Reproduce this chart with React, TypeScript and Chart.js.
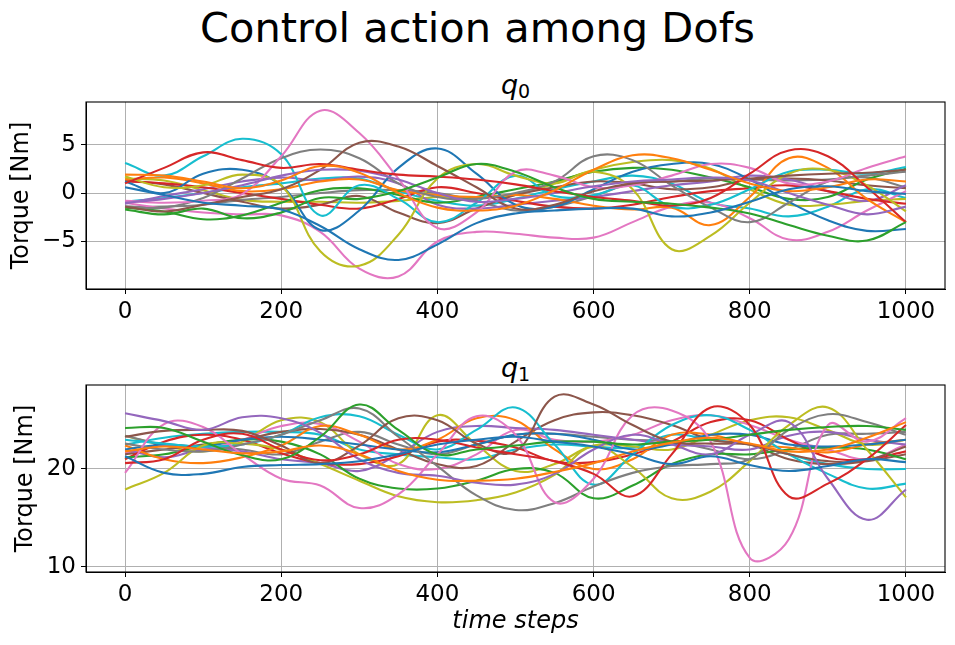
import React, { useEffect, useRef } from "react";
import { Chart, registerables } from "chart.js";

Chart.register(...registerables);

const TAB10 = ["#1f77b4", "#ff7f0e", "#2ca02c", "#d62728", "#9467bd", "#8c564b", "#e377c2", "#7f7f7f", "#bcbd22", "#17becf"];

const timeSteps = [0, 50, 100, 150, 200, 250, 300, 350, 400, 450, 500, 550, 600, 650, 700, 750, 800, 850, 900, 950, 1000];
const xTicks = [0, 200, 400, 600, 800, 1000];
const q0Ticks = [-5, 0, 5];
const q1Ticks = [10, 20];

// q0 torques
const q0Blue1 = [0.6, -0.2, -1.0, -1.3, -1.7, -3.4, -5.8, -6.9, -5.3, -3.1, -2.1, -1.8, -1.6, -1.6, -2.4, -2.0, -0.9, 0.4, 0.7, 0.2, -0.1];
const q0Orange1 = [1.9, 1.8, 1.2, 0.5, 1.3, 2.8, 2.1, 0.0, -1.5, -1.8, -1.3, 0.3, 2.4, 3.9, 3.6, 2.4, 1.0, 0.2, 0.6, 1.4, 1.2];
const q0Green1 = [-1.7, -2.2, -1.6, -2.6, -2.0, -0.5, -0.6, 0.2, 1.6, 3.0, 2.2, 0.6, -0.6, -0.9, -1.1, -1.5, -2.1, -3.3, -4.4, -4.9, -3.0];
const q0Red1 = [1.0, 2.6, 4.2, 3.4, 2.6, 3.0, 2.4, 1.9, 1.7, 1.4, 0.9, 0.2, -0.4, -0.8, -1.3, -0.5, 2.0, 4.4, 3.8, 0.6, -3.0];
const q0Purple1 = [-1.0, -0.6, 0.0, 0.8, 1.8, 2.4, 2.3, 1.4, 0.0, -0.9, -0.6, 0.0, 0.7, 1.2, 1.4, 1.6, 1.3, 0.0, -1.2, -2.2, -1.4];
const q0Brown1 = [-1.4, -1.9, -1.2, -0.4, 0.4, 2.4, 5.2, 4.8, 2.8, 0.6, -1.6, -1.2, 0.2, 1.0, 1.2, 1.3, 1.5, 1.8, 2.0, 2.1, 2.4];
const q0Pink1 = [-0.8, -1.0, -0.8, -0.1, 3.8, 8.5, 6.2, 1.5, -3.6, -2.0, 2.2, 1.8, 0.6, 0.8, 1.8, 3.0, 2.6, 1.0, 1.2, 2.6, 3.8];
const q0Gray1 = [-1.4, -1.5, -0.5, 1.5, 3.6, 4.5, 3.6, 1.0, -0.4, -0.6, 0.0, 1.2, 3.8, 3.4, 0.8, -1.5, -3.0, -1.0, 1.2, 1.8, 2.2];
const q0Olive1 = [1.7, 0.6, 0.8, 1.9, 0.8, -6.0, -7.5, -4.3, 1.5, 3.0, 1.8, 1.0, 2.2, 0.4, -5.8, -4.4, -1.0, 2.0, 2.4, 0.8, -1.9];
const q0Cyan1 = [3.1, 1.8, 3.8, 5.6, 4.0, -2.3, 0.8, -0.6, -3.0, -1.0, 1.8, -0.3, -0.2, 0.8, -1.4, -1.2, 0.4, 2.2, 2.4, 2.0, 2.7];
const q0Blue2 = [1.2, 0.0, 2.0, 2.4, 0.8, -3.8, -1.8, 2.6, 4.6, 2.0, -1.2, -1.4, 0.4, 2.2, 3.0, 3.0, 1.4, -0.9, -2.8, -3.9, -3.7];
const q0Orange2 = [1.4, 1.6, 1.0, 0.2, 0.4, 1.2, 1.4, 0.3, -0.2, -0.4, -0.2, -0.6, -1.3, -1.7, -1.5, -3.3, -0.4, 3.6, 2.6, -0.6, -3.0];
const q0Green2 = [-1.5, -1.9, -2.7, -2.3, -1.0, 0.3, 0.5, -0.2, -1.0, -0.4, 0.4, 1.2, 2.2, 2.6, 2.4, 1.6, 0.6, -0.6, -0.4, 1.4, 2.5];
const q0Red2 = [1.2, 1.0, 0.6, 0.0, -0.6, -1.2, -1.6, -0.6, 0.6, 0.0, -0.8, -1.4, -1.6, -1.2, -0.4, 0.2, 0.5, 0.8, 0.2, -0.6, -1.1];
const q0Purple2 = [-1.1, -0.3, 0.4, 1.2, 1.6, 1.3, 1.7, 1.0, -1.2, -1.6, -1.2, -0.8, -0.4, 0.2, 0.8, 1.2, 1.8, 1.4, 0.2, -0.8, 0.8];
const q0Brown2 = [1.3, 0.9, 0.0, -0.9, -1.6, -1.2, -0.3, -2.0, -3.1, -1.6, -0.2, 0.6, 1.2, 1.0, 0.4, 0.6, 1.4, 1.5, 1.3, 0.8, 0.5];
const q0Pink2 = [-1.0, -1.6, -2.0, -2.2, -2.3, -4.0, -7.8, -8.6, -5.0, -4.0, -4.2, -4.6, -4.6, -3.0, -1.4, -1.0, -2.6, -4.8, -4.0, -1.8, 0.2];
const q0Gray2 = [-1.4, -1.4, -1.2, -0.7, -0.4, 0.0, 0.3, 0.3, 0.0, -0.8, -1.8, -1.4, -0.3, 1.0, 1.2, 1.5, 1.4, 1.3, 1.4, 1.6, 0.6];
const q0Olive2 = [1.5, 1.3, 0.3, -0.7, -0.9, -0.9, -1.0, -0.8, -0.4, -0.5, -0.2, 1.0, 2.4, 3.2, 3.4, 2.5, 0.4, -1.2, -1.2, -0.8, -0.6];
const q0Cyan2 = [-0.9, -0.5, 0.0, 0.6, 1.0, 1.5, 1.5, 0.2, -0.8, -1.3, -0.6, 0.4, 1.2, 1.8, 1.0, -1.0, -1.6, -2.4, -1.4, 0.4, -0.5];

// q1 torques
const q1Blue1 = [21.3, 19.6, 19.5, 20.2, 20.4, 20.5, 20.8, 21.5, 22.5, 23.0, 23.3, 22.8, 22.3, 21.5, 20.5, 21.3, 20.4, 19.8, 20.3, 21.0, 20.7];
const q1Orange1 = [21.8, 22.3, 22.0, 21.6, 21.8, 22.4, 21.5, 19.8, 18.9, 18.8, 19.0, 19.7, 20.6, 21.8, 22.7, 23.2, 22.6, 21.8, 22.0, 23.2, 24.8];
const q1Green1 = [24.2, 24.2, 22.8, 21.4, 21.0, 23.3, 26.6, 24.0, 21.5, 22.0, 22.4, 22.8, 22.8, 22.5, 22.8, 23.0, 23.5, 24.0, 24.3, 24.4, 24.0];
const q1Red1 = [20.6, 21.0, 23.0, 23.6, 22.0, 20.9, 21.5, 23.0, 23.0, 22.2, 21.5, 20.8, 19.5, 17.2, 21.5, 26.3, 24.5, 17.2, 18.5, 21.0, 24.5];
const q1Purple1 = [25.7, 24.9, 24.0, 25.3, 25.2, 23.7, 21.0, 19.6, 19.3, 18.6, 18.4, 19.5, 22.0, 23.5, 22.5, 21.5, 23.5, 24.8, 19.0, 14.8, 17.9];
const q1Brown1 = [23.3, 23.9, 24.0, 23.9, 22.4, 20.6, 22.4, 25.2, 25.0, 22.6, 21.8, 27.4, 26.6, 24.5, 22.8, 22.6, 22.5, 21.5, 20.8, 20.9, 22.3];
const q1Pink1 = [19.6, 24.6, 24.3, 21.5, 19.0, 18.3, 16.0, 17.4, 21.5, 25.4, 23.5, 16.6, 19.0, 25.5, 26.0, 22.8, 10.9, 12.8, 24.5, 22.8, 25.2];
const q1Gray1 = [22.6, 22.0, 21.8, 22.5, 23.5, 25.0, 26.2, 23.3, 20.3, 17.3, 15.8, 16.5, 18.2, 19.6, 20.3, 20.5, 21.0, 24.0, 25.6, 24.8, 23.5];
const q1Olive1 = [17.9, 19.6, 22.4, 22.6, 22.0, 20.5, 18.8, 17.2, 16.6, 16.8, 17.6, 19.4, 22.3, 20.2, 17.0, 17.7, 20.8, 24.5, 26.3, 22.0, 17.1];
const q1Cyan1 = [23.0, 22.6, 22.3, 22.5, 23.5, 25.3, 25.4, 23.5, 22.0, 24.0, 26.3, 22.5, 18.4, 21.5, 24.5, 25.5, 24.0, 21.5, 19.5, 18.0, 18.5];
const q1Blue2 = [22.0, 22.5, 22.3, 23.0, 23.3, 23.0, 22.5, 22.0, 21.7, 22.5, 23.5, 23.6, 23.0, 22.0, 22.5, 23.5, 23.5, 22.5, 22.3, 22.5, 23.0];
const q1Orange2 = [22.4, 21.0, 20.6, 21.2, 22.4, 24.4, 23.5, 22.0, 23.0, 25.2, 25.0, 22.0, 20.0, 21.0, 23.5, 23.5, 22.5, 22.2, 21.7, 22.5, 23.0];
const q1Green2 = [21.2, 21.5, 22.4, 23.0, 22.8, 21.5, 19.0, 18.0, 18.0, 18.8, 20.0, 19.6, 17.0, 18.3, 20.5, 21.5, 21.5, 22.0, 22.2, 22.0, 21.0];
const q1Red2 = [21.0, 22.8, 23.5, 23.0, 21.6, 20.6, 20.5, 21.3, 22.8, 22.9, 22.2, 20.8, 20.7, 21.5, 22.8, 24.8, 25.0, 23.0, 21.2, 21.0, 21.8];
const q1Purple2 = [22.0, 21.2, 22.0, 21.8, 21.0, 20.6, 19.8, 21.5, 23.8, 24.4, 24.2, 24.0, 23.5, 23.0, 22.5, 22.3, 22.0, 23.4, 23.8, 23.0, 22.5];
const q1Brown2 = [21.5, 22.0, 22.5, 23.0, 23.8, 24.1, 23.5, 22.0, 20.5, 20.3, 22.8, 25.0, 25.8, 25.5, 24.5, 23.0, 22.5, 21.0, 20.5, 20.8, 21.5];
const q1Pink2 = [21.6, 22.4, 22.0, 23.0, 24.4, 24.6, 22.8, 20.5, 20.0, 21.5, 24.0, 23.0, 22.8, 23.5, 25.0, 25.5, 24.5, 23.0, 22.0, 21.0, 22.5];
const q1Gray2 = [23.4, 22.5, 22.3, 22.0, 21.5, 22.8, 23.8, 22.5, 21.5, 22.5, 23.5, 23.6, 23.3, 23.0, 22.8, 22.0, 21.0, 22.0, 23.5, 23.6, 23.8];
const q1Olive2 = [23.4, 22.4, 21.8, 22.8, 25.0, 24.8, 21.5, 20.5, 25.5, 22.5, 19.8, 20.5, 22.4, 22.3, 22.0, 23.5, 25.0, 25.3, 24.0, 22.5, 23.0];
const q1Cyan2 = [22.5, 23.2, 23.6, 23.8, 23.8, 23.5, 22.0, 21.5, 21.2, 21.0, 22.0, 22.5, 22.3, 22.2, 23.5, 23.0, 22.5, 21.5, 20.5, 20.0, 20.0];

const q0Lines = [q0Blue1, q0Orange1, q0Green1, q0Red1, q0Purple1, q0Brown1, q0Pink1, q0Gray1, q0Olive1, q0Cyan1,
  q0Blue2, q0Orange2, q0Green2, q0Red2, q0Purple2, q0Brown2, q0Pink2, q0Gray2, q0Olive2, q0Cyan2];
const q1Lines = [q1Blue1, q1Orange1, q1Green1, q1Red1, q1Purple1, q1Brown1, q1Pink1, q1Gray1, q1Olive1, q1Cyan1,
  q1Blue2, q1Orange2, q1Green2, q1Red2, q1Purple2, q1Brown2, q1Pink2, q1Gray2, q1Olive2, q1Cyan2];

const FONT = "'DejaVu Sans', sans-serif";
Chart.defaults.font.family = FONT;

const framePlugin = {
  id: "frame",
  afterDraw(chart: any) {
    const { ctx, chartArea: a } = chart;
    ctx.save();
    ctx.strokeStyle = "#000";
    ctx.lineWidth = 1.1;
    ctx.strokeRect(a.left, a.top, a.right - a.left, a.bottom - a.top);
    ctx.restore();
  },
};

type PanelProps = {
  lines: number[][];
  yMin: number;
  yMax: number;
  yTicks: number[];
  top: number;
  height: number;
  xAxisHeight: number;
  yTitlePad: number;
  xTitle?: string;
};

function zeroPad(s: any) {
  s.paddingTop = 0;
  s.paddingBottom = 0;
  s.paddingLeft = 0;
  s.paddingRight = 0;
}

function Panel(p: PanelProps) {
  const ref = useRef<HTMLCanvasElement>(null);
  useEffect(() => {
    const chart = new Chart(ref.current!, {
      type: "line",
      data: {
        datasets: p.lines.map((vals, i) => ({
          data: timeSteps.map((t, k) => ({ x: t, y: vals[k] })),
          borderColor: TAB10[i % 10],
          backgroundColor: TAB10[i % 10],
          borderWidth: 2.1,
          pointRadius: 0,
          tension: 0.4,
          fill: false,
        })),
      },
      options: {
        animation: false,
        responsive: false,
        events: [],
        layout: { padding: { left: 0, right: 10, top: 10, bottom: 0 } },
        plugins: { legend: { display: false }, tooltip: { enabled: false } },
        scales: {
          x: {
            type: "linear",
            min: -50,
            max: 1050,
            afterBuildTicks: (s: any) => { s.ticks = xTicks.map((v) => ({ value: v })); },
            afterFit: (s: any) => { s.height = p.xAxisHeight; zeroPad(s); },
            grid: { color: "#b0b0b0", lineWidth: 1, tickColor: "#000", tickLength: 5, drawTicks: true },
            border: { color: "#000", width: 1 },
            ticks: {
              color: "#000",
              font: { size: 23 },
              padding: 4,
              maxRotation: 0,
              autoSkip: false,
              callback: (v: any) => String(v),
            },
            title: p.xTitle
              ? { display: true, text: p.xTitle, color: "#000", font: { size: 24, style: "italic" }, padding: { top: 0, bottom: 9 } }
              : { display: false },
          },
          y: {
            type: "linear",
            min: p.yMin,
            max: p.yMax,
            afterBuildTicks: (s: any) => { s.ticks = p.yTicks.map((v) => ({ value: v })); },
            afterFit: (s: any) => { s.width = 86; zeroPad(s); },
            grid: { color: "#b0b0b0", lineWidth: 1, tickColor: "#000", tickLength: 5, drawTicks: true },
            border: { color: "#000", width: 1 },
            ticks: {
              color: "#000",
              font: { size: 23 },
              padding: 5,
              autoSkip: false,
              callback: (v: any) => String(v).replace("-", "\u2212"),
            },
            title: { display: true, text: "Torque [Nm]", color: "#000", font: { size: 24 }, padding: { top: p.yTitlePad, bottom: 0 } },
          },
        },
      },
      plugins: [framePlugin],
    } as any);
    return () => chart.destroy();
  }, []);
  return (
    <canvas
      ref={ref}
      width={955}
      height={p.height}
      style={{ position: "absolute", left: 0, top: p.top, width: 955, height: p.height, display: "block" }}
    />
  );
}

function SubTitle({ sub, baseline }: { sub: string; baseline: number }) {
  const size = 27;
  return (
    <div
      style={{
        position: "absolute",
        left: 86,
        width: 859,
        top: baseline - 0.846 * size,
        textAlign: "center",
        fontFamily: FONT,
        fontSize: size,
        lineHeight: `${size}px`,
        color: "#000",
        whiteSpace: "nowrap",
      }}
    >
      <span style={{ fontStyle: "italic" }}>q</span>
      <span style={{ fontSize: 19, position: "relative", top: 4 }}>{sub}</span>
    </div>
  );
}

export default function App() {
  return (
    <div style={{ position: "absolute", left: 0, top: 0, width: 955, height: 645, background: "#fff", overflow: "hidden" }}>
      <div
        style={{
          position: "absolute",
          left: 0,
          width: 955,
          top: 42 - 0.846 * 41.5,
          textAlign: "center",
          fontFamily: FONT,
          fontSize: 41.5,
          lineHeight: "41.5px",
          color: "#000",
          whiteSpace: "nowrap",
        }}
      >
        Control action among Dofs
      </div>
      <SubTitle sub="0" baseline={94} />
      <SubTitle sub="1" baseline={377} />
      <Panel lines={q0Lines} yMin={-9.9} yMax={9.4} yTicks={q0Ticks} top={92} height={250} xAxisHeight={53} yTitlePad={7} />
      <Panel lines={q1Lines} yMin={9.45} yMax={28.6} yTicks={q1Ticks} top={375} height={270} xAxisHeight={73} yTitlePad={11} xTitle="time steps" />
    </div>
  );
}
